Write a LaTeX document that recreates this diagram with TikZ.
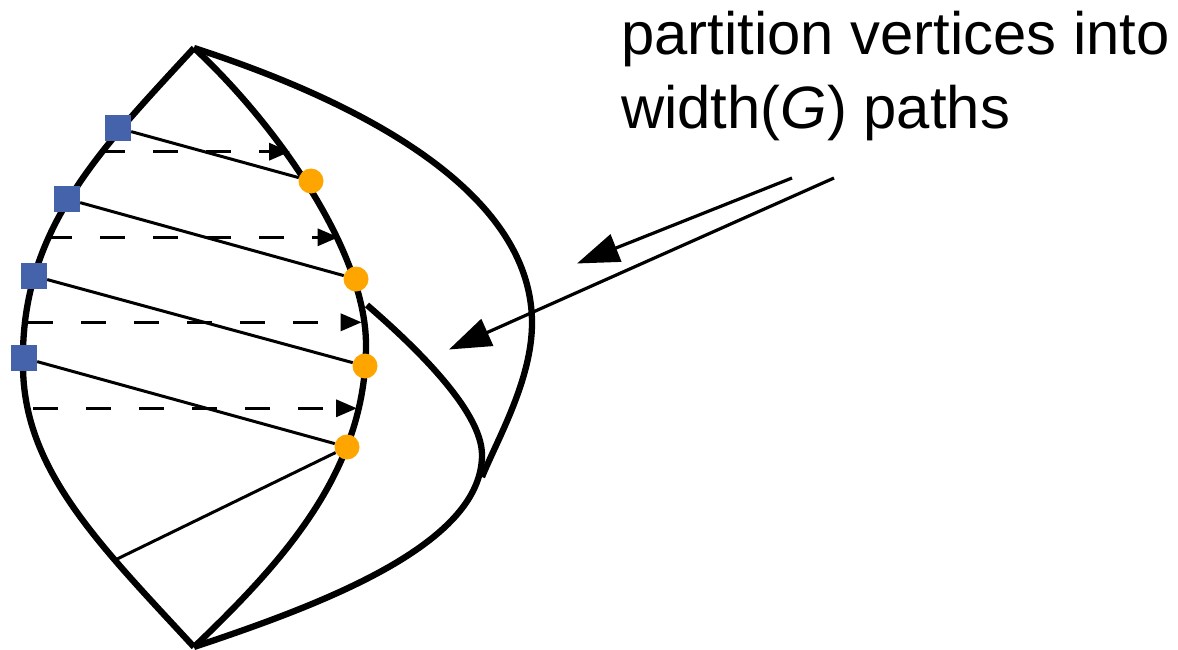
\documentclass[tikz,border=0pt]{standalone}
\usepackage{fontspec}
\setmainfont{Liberation Sans}
\usetikzlibrary{arrows.meta}
\definecolor{srcblue}{RGB}{68,99,170}
\definecolor{snkorange}{RGB}{255,165,0}
\tikzset{
  rim/.style     = {line width=6.3pt},
  chain/.style   = {line width=3pt},
  hop/.style     = {line width=3.4pt, dash pattern=on 25pt off 28pt,
                    -{Triangle[length=21pt,width=17pt]}},
  callout/.style = {line width=3.2pt, -{Triangle[length=42pt,width=29pt]}},
  src/.style     = {fill=srcblue, minimum size=26pt, inner sep=0pt},
  snk/.style     = {circle, fill=snkorange, minimum size=25pt, inner sep=0pt},
  caption/.style = {font=\fontsize{59.8}{73.3}\selectfont, align=left, inner sep=0pt},
}

\begin{document}
\begin{tikzpicture}[x=1pt,y=-1pt]
  \useasboundingbox (0,0) rectangle (1178,650);
  \coordinate (top) at (194,48);
  \coordinate (bot) at (194,647);
  \coordinate (foot) at (113,561);
  \coordinate (fork) at (367,305);
  % outline of the dag
  \draw[rim] (top) .. controls (100,150) and (20,230) .. (23,365)
                   .. controls (23,470) and (100,545) .. (bot);
  \draw[rim] (top) .. controls (274,122) and (366,250) .. (366,345)
                   .. controls (366,470) and (285,560) .. (bot);
  \draw[rim] (top) .. controls (330,92) and (532,180) .. (532,323)
                   .. controls (532,380) and (497,440) .. (482,477);
  \draw[rim] (fork) .. controls (412,344) and (482,410) .. (482,455)
                    .. controls (482,545) and (320,605) .. (bot);
  % matching edges
  \foreach \i/\y/\xa/\xb in {1/151.7/100/290, 2/237.3/47/338.5,
                             3/322.3/28/361.7, 4/408.3/33/357} {
    \coordinate (l\i) at (\xa,\y);
    \coordinate (r\i) at (\xb,\y);
    \draw[hop] (l\i) -- (r\i);
  }
  \node[src] (s1) at (118,128) {};
  \node[src] (s2) at (67,199) {};
  \node[src] (s3) at (34,276) {};
  \node[src] (s4) at (24,358) {};
  \node[snk] (c1) at (311,181) {};
  \node[snk] (c2) at (356,279) {};
  \node[snk] (c3) at (365,366) {};
  \node[snk] (c4) at (347,447) {};
  \foreach \i in {1,...,4}
    \draw[chain] (s\i) -- (c\i);
  \draw[chain] (foot) -- (c4);
  \node[caption, anchor=base west] (note) at (621,128.3)
    {partition vertices into\\width(\textit{G}) paths};
  \coordinate (tail1) at (792,178);
  \coordinate (tip1) at (577,263.5);
  \coordinate (tail2) at (834,178);
  \coordinate (tip2) at (449,349.5);
  \draw[callout] (tail1) -- (tip1);
  \draw[callout] (tail2) -- (tip2);
\end{tikzpicture}
\end{document}
